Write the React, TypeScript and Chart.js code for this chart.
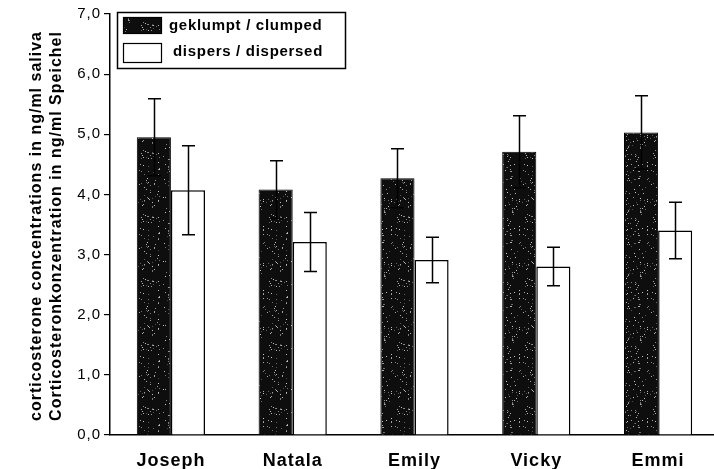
import React, { useEffect, useRef } from "react";
import { Chart, registerables } from "chart.js";

Chart.register(...registerables);

const categories = ["Joseph", "Natala", "Emily", "Vicky", "Emmi"];
const clumpedValues = [4.95, 4.08, 4.27, 4.71, 5.03];
const clumpedErrors = [0.64, 0.48, 0.49, 0.6, 0.61];
const dispersedValues = [4.07, 3.21, 2.91, 2.8, 3.4];
const dispersedErrors = [0.74, 0.49, 0.38, 0.32, 0.47];
const seriesLabels = ["geklumpt / clumped", "dispers / dispersed"];
const yTitleLines = [
  "corticosterone concentrations in ng/ml saliva",
  "Corticosteronkonzentration in ng/ml Speichel",
];

const FONT = "'Liberation Sans', Arial, sans-serif";

function makeSpeckle(): CanvasPattern | string {
  const c = document.createElement("canvas");
  c.width = 64;
  c.height = 64;
  const g = c.getContext("2d");
  if (!g) return "#111";
  g.fillStyle = "#0e0e0e";
  g.fillRect(0, 0, 64, 64);
  let s = 12345;
  const next = () => {
    s = (s * 1103515245 + 12345) & 0x7fffffff;
    return s / 0x7fffffff;
  };
  for (let i = 0; i < 200; i++) {
    const x = Math.floor(next() * 64);
    const y = Math.floor(next() * 64);
    const v = 70 + Math.floor(next() * 140);
    g.fillStyle = `rgb(${v},${v},${v})`;
    g.fillRect(x, y, 1, 1);
  }
  return g.createPattern(c, "repeat") || "#111";
}

const errors = [clumpedErrors, dispersedErrors];

const spacingPlugin = {
  id: "spacing",
  beforeDraw(chart: any) {
    (chart.ctx as any).letterSpacing = "1px";
  },
  beforeLayout(chart: any) {
    (chart.ctx as any).letterSpacing = "1px";
  },
};

const errorBarPlugin = {
  id: "errorBars",
  afterDatasetsDraw(chart: any) {
    const ctx = chart.ctx;
    const yScale = chart.scales.y;
    ctx.save();
    ctx.strokeStyle = "#000";
    ctx.lineWidth = 1.5;
    chart.data.datasets.forEach((ds: any, d: number) => {
      const meta = chart.getDatasetMeta(d);
      meta.data.forEach((el: any, i: number) => {
        const v = ds.data[i];
        const e = errors[d][i];
        const x = Math.round(el.x) + 0.5;
        const yt = yScale.getPixelForValue(v + e);
        const yb = yScale.getPixelForValue(v - e);
        ctx.beginPath();
        ctx.moveTo(x, yt);
        ctx.lineTo(x, yb);
        ctx.moveTo(x - 6.5, yt);
        ctx.lineTo(x + 6.5, yt);
        ctx.moveTo(x - 6.5, yb);
        ctx.lineTo(x + 6.5, yb);
        ctx.stroke();
      });
    });
    ctx.restore();
  },
};

const decorPlugin = {
  id: "decor",
  afterDraw(chart: any) {
    const ctx = chart.ctx;
    ctx.save();
    // y-axis titles
    ctx.fillStyle = "#000";
    ctx.font = `bold 16px ${FONT}`;
    (ctx as any).letterSpacing = "1px";
    ctx.textAlign = "center";
    ctx.textBaseline = "middle";
    const xs = [37, 57];
    yTitleLines.forEach((t, i) => {
      ctx.save();
      ctx.translate(xs[i], 226);
      ctx.rotate(-Math.PI / 2);
      ctx.fillText(t, 0, 0);
      ctx.restore();
    });
    // legend
    const ds = chart.data.datasets;
    ctx.lineWidth = 1.5;
    ctx.strokeStyle = "#000";
    ctx.fillStyle = "#fff";
    ctx.fillRect(117, 12, 228, 56);
    ctx.strokeRect(117.5, 12.5, 228, 56);
    const rows = [
      { y: 17, h: 16, ty: 26 },
      { y: 43, h: 19, ty: 52 },
    ];
    rows.forEach((r, i) => {
      ctx.fillStyle = ds[i].backgroundColor;
      ctx.fillRect(123, r.y, 39, r.h);
      ctx.lineWidth = 1.2;
      ctx.strokeRect(123.5, r.y + 0.5, 38, r.h);
      ctx.fillStyle = "#000";
      ctx.font = `bold 15px ${FONT}`;
      (ctx as any).letterSpacing = "0.7px";
      ctx.textAlign = "left";
      ctx.textBaseline = "middle";
      ctx.fillText(seriesLabels[i], i === 0 ? 169 : 173, r.ty);
    });
    ctx.restore();
  },
};

export default function App() {
  const ref = useRef<HTMLCanvasElement>(null);
  useEffect(() => {
    if (!ref.current) return;
    const speckle = makeSpeckle();
    const chart = new Chart(ref.current, {
      type: "bar",
      data: {
        labels: categories,
        datasets: [
          {
            label: seriesLabels[0],
            data: clumpedValues,
            backgroundColor: speckle as any,
            borderColor: "#000",
            borderWidth: 1,
            categoryPercentage: 0.56,
            barPercentage: 1,
          },
          {
            label: seriesLabels[1],
            data: dispersedValues,
            backgroundColor: "#ffffff",
            borderColor: "#000",
            borderWidth: 1.5,
            categoryPercentage: 0.56,
            barPercentage: 1,
          },
        ],
      },
      options: {
        responsive: false,
        animation: false,
        layout: { padding: { top: 14, right: 0, bottom: 0, left: 0 } },
        plugins: {
          legend: { display: false },
          tooltip: { enabled: false },
          title: { display: false },
        },
        scales: {
          x: {
            grid: { display: false, drawTicks: false },
            border: { display: true, color: "#000", width: 1.5 },
            ticks: {
              color: "#000",
              padding: 15,
              font: { family: FONT, size: 18, weight: "bold" },
            },
            afterFit: (s: any) => {
              s.height = 34;
            },
          },
          y: {
            min: 0,
            max: 7,
            grid: {
              display: true,
              drawOnChartArea: false,
              drawTicks: true,
              tickLength: 6,
              color: "#000",
              lineWidth: 1.2,
            },
            border: { display: true, color: "#000", width: 1.5 },
            ticks: {
              stepSize: 1,
              color: "#000",
              padding: 3,
              font: { family: FONT, size: 15 },
              callback: (v: any) => Number(v).toFixed(1).replace(".", ","),
            },
            afterFit: (s: any) => {
              s.width = 110;
            },
          },
        },
      },
      plugins: [spacingPlugin, errorBarPlugin, decorPlugin],
    });
    return () => chart.destroy();
  }, []);
  return (
    <div
      style={{
        position: "fixed",
        top: 0,
        left: 0,
        width: 714,
        height: 469,
        overflow: "hidden",
        background: "#fff",
      }}
    >
      <canvas ref={ref} width={719} height={469} style={{ display: "block" }} />
    </div>
  );
}
